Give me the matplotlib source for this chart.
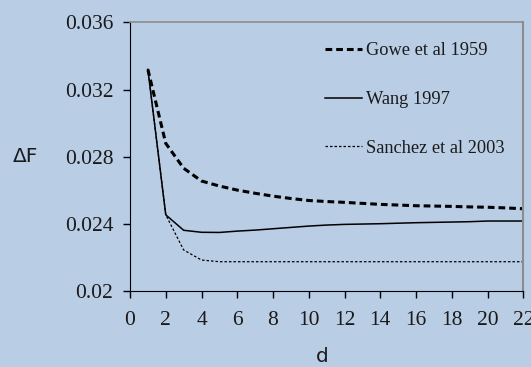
import matplotlib
matplotlib.use("Agg")
import matplotlib.pyplot as plt

# distance d
d = list(range(1, 23))

# delta F
gowe_1959 = [0.0332, 0.0288, 0.02732, 0.02656, 0.02626, 0.02602, 0.02583, 0.02566,
             0.02552, 0.02540, 0.02534, 0.02529, 0.02523, 0.02517, 0.02513, 0.02509,
             0.02507, 0.02505, 0.02502, 0.02500, 0.02496, 0.02491]
wang_1997 = [0.0332, 0.02455, 0.02363, 0.02351, 0.0235, 0.02358, 0.02364, 0.02372,
             0.02380, 0.02388, 0.02394, 0.02398, 0.02400, 0.02402, 0.02405, 0.02408,
             0.02410, 0.02412, 0.02414, 0.02418, 0.02418, 0.02418]
sanchez_2003 = [0.0332, 0.02455, 0.02246, 0.02186, 0.02176, 0.02176, 0.02176, 0.02176,
                0.02176, 0.02176, 0.02176, 0.02176, 0.02176, 0.02176, 0.02176, 0.02176,
                0.02176, 0.02176, 0.02176, 0.02176, 0.02176, 0.02176]

x_ticks = list(range(0, 23, 2))
y_ticks = [0.02, 0.024, 0.028, 0.032, 0.036]
y_tick_labels = ["0.02", "0.024", "0.028", "0.032", "0.036"]

bg = "#B9CDE5"
serif = "Liberation Serif"

fig = plt.figure(figsize=(5.31, 3.67), dpi=100, facecolor=bg)
ax = fig.add_axes([130 / 531, 1 - 291.3 / 367, (523.3 - 130) / 531, (291.3 - 22.3) / 367])
ax.set_facecolor(bg)

ax.plot(d, gowe_1959, color="black", lw=2.2, linestyle=(0, (2.2, 1.3)), label="Gowe et al 1959")
ax.plot(d, wang_1997, color="black", lw=1.1, label="Wang 1997")
ax.plot(d, sanchez_2003, color="black", lw=0.9, linestyle=(0, (2.0, 1.6)), label="Sanchez et al 2003")

ax.set_xlim(0, 22)
ax.set_ylim(0.02, 0.036)
ax.set_xticks(x_ticks)
ax.set_yticks(y_ticks)
ax.set_yticklabels(y_tick_labels)

for lab in ax.get_xticklabels() + ax.get_yticklabels():
    lab.set_fontfamily(serif)
    lab.set_fontsize(15.5)
    lab.set_color("#1a1a1a")
ax.tick_params(axis="both", direction="out", length=5, width=1, color="black")
ax.tick_params(axis="y", pad=7)
ax.tick_params(axis="x", pad=9)

ax.spines["left"].set_color("black")
ax.spines["bottom"].set_color("black")
ax.spines["top"].set_color("#8c8c8c")
ax.spines["right"].set_color("#8c8c8c")
ax.spines["top"].set_linewidth(1.2)
ax.spines["right"].set_linewidth(1.5)

fig.text(26 / 531, 1 - 156 / 367, "ΔF", fontsize=14.5, family="DejaVu Sans",
         ha="center", va="center", color="#1a1a1a")
fig.text(322 / 531, 1 - 356 / 367, "d", fontsize=14.5, family="DejaVu Sans",
         ha="center", va="center", color="#1a1a1a")

leg = ax.legend(loc="upper left", bbox_to_anchor=(0.496, 0.925), frameon=False,
                prop={"family": serif, "size": 13.2}, handlelength=2.0,
                handletextpad=0.25, labelspacing=1.72, borderpad=0, borderaxespad=0)
for t in leg.get_texts():
    t.set_color("#1a1a1a")

fig.savefig("out.png", dpi=100, facecolor=bg)
